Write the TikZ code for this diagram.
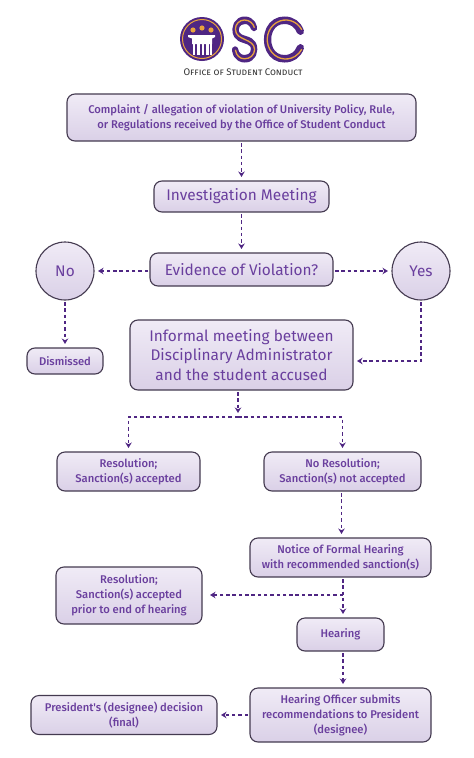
\documentclass[tikz,border=0pt]{standalone}
\usepackage{fontspec}
\usepackage{xcolor}
\setmainfont{Fira Sans}
\newfontfamily\boxfont{Fira Sans Medium}
\newfontfamily\logofont{Poppins Thin}
\usetikzlibrary{shapes,arrows.meta,positioning}
\definecolor{oscpurple}{HTML}{4F2683}
\definecolor{oscorange}{HTML}{E8A33D}
\definecolor{boxtext}{HTML}{6A3F9E}
\definecolor{boxedge}{HTML}{443A50}
\definecolor{boxtop}{HTML}{F0EBF6}
\definecolor{boxbottom}{HTML}{DAD0E7}
\begin{document}
\begin{tikzpicture}[
    x=1pt, y=1pt,
    node distance=40pt,
    block/.style={rectangle, draw=boxedge, line width=1.1pt, top color=boxtop,
                  bottom color=boxbottom, rounded corners=8pt, align=center,
                  inner sep=0pt, outer sep=0pt, text=boxtext,
                  font=\boxfont\fontsize{11.2}{15}\selectfont},
    bigblock/.style={block, font=\fontsize{15.4}{19.7}\selectfont},
    answer/.style={bigblock, circle, minimum size=58pt},
    flow/.style={-{Stealth[length=5.5pt, width=6.5pt]}, draw=oscpurple, line width=1.7pt,
                 dash pattern=on 3.5pt off 2.8pt, shorten >=4pt, shorten <=2pt},
    letter/.style={inner sep=0pt, text=oscpurple, transform shape,
                   font=\logofont\fontsize{55}{55}\selectfont},
    inline/.style={draw=oscorange, line width=1.3pt}
]
\useasboundingbox (0,0) rectangle (474,-758);
% logo
\fill[oscpurple] (202,-39) circle (22);
\draw[oscorange, line width=1pt] (202,-39) circle (19.5);
\fill[white] (188,-35) -- (215,-35) -- (215,-37) -- (212,-38.5) -- (212,-44) -- (192,-44) -- (192,-38.5) -- (188,-37) -- cycle;
\foreach \x in {192.5,197,201.5,206,209.5} \fill[white] (\x,-44) rectangle +(2.6,-11);
\foreach \x/\y in {193/-30,202/-28,211/-30} \fill[oscorange] (\x,\y) circle (2.6);
\node[letter, xscale=.84] (letterS) at (244.5,-39.5) {\special{pdf:code 1 Tr 6.5 w 1 j}S\special{pdf:code 0 Tr 1 w}};
\node[letter, xscale=.95] (letterC) at (284,-39.5) {\special{pdf:code 1 Tr 6.5 w 1 j}C\special{pdf:code 0 Tr 1 w}};
\draw[inline, shift={(244.5,-39.5)}, xscale=.84] (11.8,11.8) .. controls (10.5,16) and (6,19.5) .. (0,19.5)
  .. controls (-6,19.5) and (-10.8,15.5) .. (-10.8,10.5) .. controls (-10.8,4) and (-5,2.2) .. (0.5,0)
  .. controls (6,-2) and (12,-4.5) .. (12,-10) .. controls (12,-15.5) and (6.5,-19.3) .. (0,-19.3)
  .. controls (-5.5,-19.3) and (-10,-16) .. (-10.8,-10.3);
\draw[inline, shift={(285.75,-39.5)}, xscale=.95] (30:19.5) arc (30:330:19.5);
\node[text=black!80, inner sep=0pt, font=\fontsize{9.6}{9.6}\selectfont\scshape] (caption) at (243,-72)
    {Office of Student Conduct};

% boxes
\node[block, minimum width=349pt, minimum height=47pt] (complaint) at (241.5,-117.5)
    {Complaint / allegation of violation of University Policy, Rule,\\or Regulations received by the Office of Student Conduct};
\node[bigblock, minimum width=175pt, minimum height=31pt, below=of complaint] (meeting) {Investigation Meeting};
\node[bigblock, minimum width=183pt, minimum height=33pt, below=41pt of meeting] (evidence) {Evidence of Violation?};
\node[answer, left=56pt of evidence, yshift=-1.5pt] (no) {No};
\node[answer, right=59pt of evidence, yshift=-1.5pt] (yes) {Yes};
\node[bigblock, minimum width=223pt, minimum height=70pt, below=34pt of evidence] (informal)
    {Informal meeting between\\Disciplinary Administrator\\and the student accused};
\node[block, minimum width=76pt, minimum height=26pt, below=48pt of no] (dismissed) {Dismissed};
\node[block, minimum width=143pt, minimum height=39pt, below=62pt of informal, xshift=-113pt] (accepted)
    {Resolution;\\Sanction(s) accepted};
\node[block, minimum width=157pt, minimum height=39pt, below=62pt of informal, xshift=101pt] (refused)
    {No Resolution;\\Sanction(s) not accepted};
\node[block, minimum width=181pt, minimum height=39pt, below=47pt of refused, xshift=-2pt] (notice)
    {Notice of Formal Hearing\\with recommended sanction(s)};
\node[block, minimum width=146pt, minimum height=57pt, left=48pt of notice, yshift=-38pt] (prior)
    {Resolution;\\Sanction(s) accepted\\prior to end of hearing};
\node[block, minimum width=87pt, minimum height=33pt, below=41pt of notice] (hearing) {Hearing};
\node[block, minimum width=181pt, minimum height=54pt, below=37pt of hearing] (officer)
    {Hearing Officer submits\\recommendations to President\\(designee)};
\node[block, minimum width=186pt, minimum height=39pt, left=33pt of officer] (president)
    {President's (designee) decision\\(final)};
\coordinate[below=27pt of informal, xshift=-3.5pt] (split);
\coordinate[below=18pt of notice, xshift=2.5pt] (branch);

% connectors
\draw[flow] (complaint) -- (meeting);
\draw[flow] (meeting) -- (evidence);
\draw[flow] (evidence.west |- no.east) -- (no.east);
\draw[flow] (evidence.east |- yes.west) -- (yes.west);
\draw[flow] (no.south) -- (dismissed.north);
\draw[flow] (yes.south) |- ([yshift=-6pt]informal.east);
\draw[flow] ([xshift=-3.5pt]informal.south) -- (split);
\draw[flow, shorten <=0pt] (split) -| (accepted.north);
\draw[flow, shorten <=0pt] (split) -| (refused.north);
\draw[flow] ([xshift=-1pt]refused.south) -- ([xshift=1pt]notice.north);
\draw[flow] ([xshift=2.5pt]notice.south) -- ([xshift=2.5pt]hearing.north);
\draw[flow, shorten <=0pt, shorten >=8pt] (branch) -- (branch -| prior.east);
\draw[flow] ([xshift=2.5pt]hearing.south) -- ([xshift=2.5pt]officer.north);
\draw[flow] (officer) -- (president);
\end{tikzpicture}
\end{document}
